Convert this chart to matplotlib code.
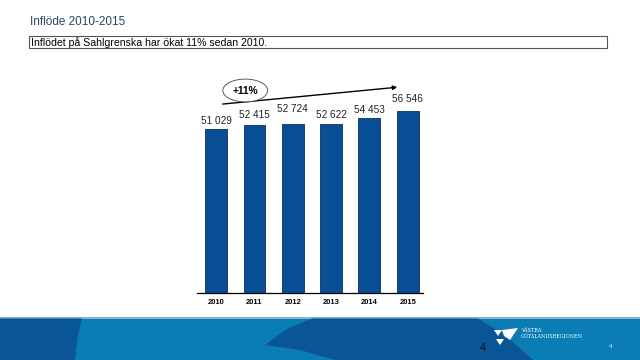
import matplotlib
matplotlib.use("Agg")
from matplotlib import pyplot as plt
from matplotlib.patches import Ellipse, Polygon, Rectangle
import numpy as np

# data
years = ["2010", "2011", "2012", "2013", "2014", "2015"]
values = [51029, 52415, 52724, 52622, 54453, 56546]
value_labels = ["51 029", "52 415", "52 724", "52 622", "54 453", "56 546"]
label_offsets = [2, 3, 7, 3, 2, 5]  # points above bar, as placed on the slide

title_text = "Inflöde 2010-2015"
box_text = "Inflödet på Sahlgrenska har ökat 11% sedan 2010."
growth_text = "+11%"

plt.rcParams['font.family'] = ['Liberation Sans', 'DejaVu Sans']

W, H = 640, 360
fig = plt.figure(figsize=(6.4, 3.6), dpi=100)
fig.patch.set_facecolor("white")


def fx(px):
    return px / W


def fy(py):
    return 1 - py / H


# bottom band with shapes
band = fig.add_axes([0, 0, 1, 1], zorder=0)
band.set_xlim(0, W)
band.set_ylim(H, 0)
band.axis("off")
band.add_patch(Rectangle((0, 318), W, 42, facecolor="#0a7db4", edgecolor="none"))
band.add_patch(Rectangle((0, 317), W, 1.5, facecolor="#7fb6d8", edgecolor="none"))
band.add_patch(Polygon([(0, 318.5), (82, 318.5), (78, 335), (75, 360), (0, 360)],
                       facecolor="#0a5596", edgecolor="none"))
band.add_patch(Polygon([(312, 318.5), (478, 318.5), (505, 335), (533, 360),
                        (335, 360), (300, 350), (265, 345), (285, 330)],
                       facecolor="#0a5596", edgecolor="none"))
# logo
band.add_patch(Polygon([(494, 330), (502, 330), (498, 336)], facecolor="white", edgecolor="none"))
band.add_patch(Polygon([(502, 330), (518, 328), (510, 340), (504, 336)], facecolor="white", edgecolor="none"))
band.add_patch(Polygon([(496, 339), (504, 339), (500, 345)], facecolor="white", edgecolor="none"))
band.text(521, 331, "VÄSTRA", color="white", fontsize=3.5, family="DejaVu Serif", va="center")
band.text(521, 337, "GÖTALANDSREGIONEN", color="white", fontsize=3.5, family="DejaVu Serif", va="center")
band.text(483, 348, "4", color="#111111", fontsize=8, ha="center", va="center")
band.text(611, 346, "4", color="#cfe6f5", fontsize=4.5, ha="center", va="center")

# header
band.text(30, 22, title_text, color="#2b4466", fontsize=8.5, va="center")
band.add_patch(Rectangle((29, 36), 578, 12, facecolor="white", edgecolor="#555555", linewidth=0.8))
band.text(31, 42.5, box_text, color="black", fontsize=7.6, va="center")

# chart
ax = fig.add_axes([fx(197), fy(293), fx(423) - fx(197), (293 - 68) / H], zorder=1)
ax.patch.set_alpha(0)
x = np.arange(len(years))
bars = ax.bar(x, values, width=0.57, color="#0a4f96", edgecolor="#0a2f5c", linewidth=0.6)
ax.set_xlim(-0.5, 5.4)
ax.set_ylim(0, 70000)

for xi, v, lab, off in zip(x, values, value_labels, label_offsets):
    ax.annotate(lab, (xi, v), xytext=(0, off), textcoords="offset points",
                ha="center", va="bottom", fontsize=7.2, color="#222222")

ax.set_xticks(x)
ax.set_xticklabels(years, fontsize=5.4, fontweight="bold")
ax.tick_params(axis="x", length=0, pad=4)
ax.set_yticks([])
for side in ["top", "right", "left"]:
    ax.spines[side].set_visible(False)
ax.spines["bottom"].set_linewidth(0.9)
ax.spines["bottom"].set_color("black")

# growth arrow with ellipse
ax.annotate("", xy=(4.8, 64100), xytext=(0.1, 58700),
            arrowprops=dict(arrowstyle="-|>", color="black", lw=1.0, mutation_scale=6))
ax.add_patch(Ellipse((0.76, 63000), 1.17, 7100, facecolor="white", edgecolor="#444444",
                     linewidth=0.6, zorder=3))
ax.text(0.76, 63000, growth_text, ha="center", va="center", fontsize=7.4,
        fontweight="bold", zorder=4)

plt.savefig("out.png", dpi=100)
plt.close()
